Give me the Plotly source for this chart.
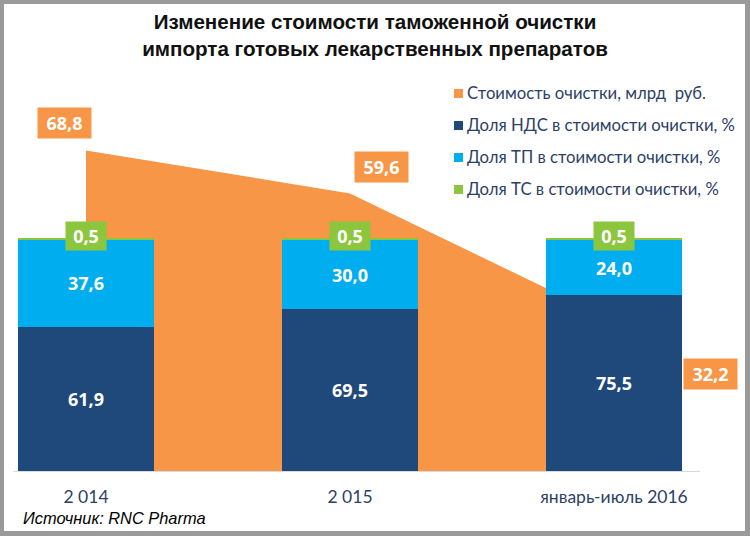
import plotly.graph_objects as go

categories = ["2 014", "2 015", "январь-июль 2016"]
cost_bln_rub = [68.8, 59.6, 32.2]
vat_share = [61.9, 69.5, 75.5]
tp_share = [37.6, 30.0, 24.0]
ts_share = [0.5, 0.5, 0.5]
legend_labels = [
    "Стоимость очистки, млрд  руб.",
    "Доля НДС в стоимости очистки, %",
    "Доля ТП в стоимости очистки, %",
    "Доля ТС в стоимости очистки, %",
]

ORANGE = "#F79646"
NAVY = "#1F487B"
SKY = "#00AEEF"
GREEN = "#8CC63F"
TXT = "#2E3F66"

W, H = 750, 536
L, R, T, B = 13, 50, 80, 65
PW, PH = W - L - R, H - T - B


def xp(px):
    return (px - L) / PW


def yp(py):
    return (H - B - py) / PH


def fmt(v):
    return f"{v:.1f}".replace(".", ",")


x = list(range(len(categories)))

fig = go.Figure()
fig.add_trace(go.Scatter(
    x=x, y=cost_bln_rub, mode="none", fill="tozeroy", fillcolor=ORANGE,
    name=legend_labels[0], showlegend=False, hoverinfo="skip", yaxis="y"))

bar_font = dict(family="Open Sans", size=18, color="white", weight="bold")
fig.add_trace(go.Bar(x=x, y=vat_share, marker=dict(color=NAVY, line=dict(width=0)),
                     width=0.515, yaxis="y2", name=legend_labels[1],
                     text=[fmt(v) for v in vat_share], textposition="inside",
                     insidetextanchor="middle", textfont=bar_font, showlegend=False))
fig.add_trace(go.Bar(x=x, y=tp_share, marker=dict(color=SKY, line=dict(width=0)),
                     width=0.515, yaxis="y2", name=legend_labels[2],
                     text=[fmt(v) for v in tp_share], textposition="inside",
                     insidetextanchor="middle", textfont=bar_font, showlegend=False))
fig.add_trace(go.Bar(x=x, y=ts_share, marker=dict(color=GREEN, line=dict(width=0)),
                     width=0.515, yaxis="y2", name=legend_labels[3],
                     showlegend=False))

annotations = []
# orange value labels
shifts = [(-22, 28), (31, 26), (96, -53)]
for i, v in enumerate(cost_bln_rub):
    annotations.append(dict(
        x=x[i], y=v, xref="x", yref="y", text=f"<b>{fmt(v)}</b>", showarrow=False,
        xshift=shifts[i][0], yshift=shifts[i][1], bgcolor=ORANGE, borderpad=2,
        width=49, height=26,
        font=dict(family="Open Sans", size=18, color="white")))
# green value labels
for i, v in enumerate(ts_share):
    top = vat_share[i] + tp_share[i] + v
    annotations.append(dict(
        x=x[i], y=top, xref="x", yref="y2", text=f"<b>{fmt(v)}</b>", showarrow=False,
        yshift=3, bgcolor=GREEN, borderpad=2, width=36, height=24,
        font=dict(family="Open Sans", size=18, color="white")))

# manual legend
shapes = [
    dict(type="rect", xref="paper", yref="paper", layer="below",
         x0=xp(4), x1=xp(745), y0=yp(531), y1=yp(4),
         fillcolor="white", line=dict(width=0)),
]
rows = [93, 125, 157, 189]
leg_colors = [ORANGE, NAVY, SKY, GREEN]
for lab, col, ry in zip(legend_labels, leg_colors, rows):
    shapes.append(dict(type="rect", xref="paper", yref="paper",
                       x0=xp(454), x1=xp(463), y0=yp(ry + 5), y1=yp(ry - 4),
                       fillcolor=col, line=dict(width=0)))
    annotations.append(dict(x=xp(465), y=yp(ry), xref="paper", yref="paper",
                            xanchor="left", yanchor="middle", showarrow=False,
                            text=lab, font=dict(family="Lato", size=16.7, color=TXT)))

annotations.append(dict(x=xp(21), y=yp(518), xref="paper", yref="paper",
                        xanchor="left", yanchor="middle", showarrow=False,
                        text="<i>Источник: RNC Pharma</i>",
                        font=dict(family="Liberation Sans", size=16.4, color="black")))

fig.update_layout(
    width=W, height=H,
    margin=dict(l=L, r=R, t=T, b=B, pad=0),
    paper_bgcolor="#9A9A9A", plot_bgcolor="rgba(0,0,0,0)",
    barmode="stack", separators=", ",
    title=dict(text="Изменение стоимости таможенной очистки<br>импорта готовых лекарственных препаратов",
               x=0.5, xref="container", xanchor="center", y=1 - 29 / H, yref="container",
               yanchor="top",
               font=dict(family="Liberation Sans", size=20.6, color="#111111", weight="bold")),
    xaxis=dict(range=[-(86 - L) / 264, (L + PW - 86) / 264], tickvals=x, ticktext=categories,
               showgrid=False, zeroline=False, showline=True, linecolor="#D9D9D9", linewidth=1,
               ticks="", ticklabelstandoff=10,
               tickfont=dict(family="Lato", size=17.5, color=TXT)),
    yaxis=dict(range=[0, PH / 4.658], visible=False, fixedrange=True),
    yaxis2=dict(range=[0, PH / 2.325], overlaying="y", visible=False),
    shapes=shapes, annotations=annotations, showlegend=False,
)

fig.write_html("out.html", config={"displayModeBar": False},
               post_script="document.body.style.margin='0';")
